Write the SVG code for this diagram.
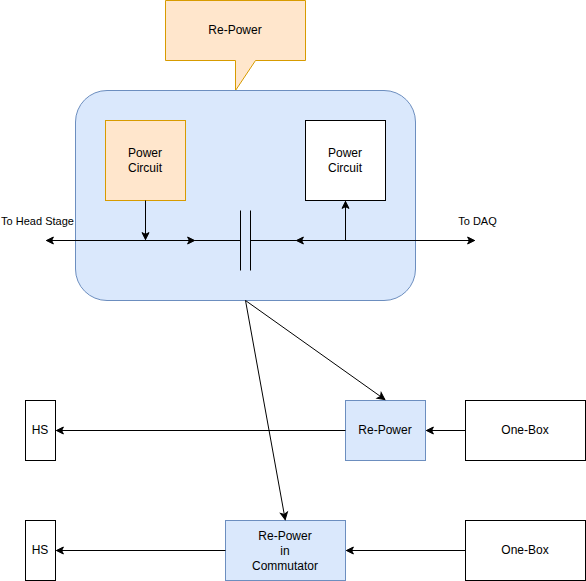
<svg xmlns="http://www.w3.org/2000/svg" width="586" height="581" viewBox="0 0 586 581">
<style>
text{font-family:"Liberation Sans",Arial,sans-serif;font-size:12px;fill:#000;text-anchor:middle}
.n{fill:#fff;stroke:#000;stroke-width:1}
.b{fill:#dae8fc;stroke:#6c8ebf;stroke-width:1}
.o{fill:#ffe6cc;stroke:#d79b00;stroke-width:1}
.c{fill:none;stroke:#000;stroke-width:1}
</style>
<defs>
<marker id="a" markerUnits="userSpaceOnUse" markerWidth="12" markerHeight="12" refX="9" refY="6" orient="auto" overflow="visible"><path d="M2,2.500L9,6L2,9.500L3.750,6Z" fill="#000" stroke="#000"/></marker>
<marker id="s" markerUnits="userSpaceOnUse" markerWidth="12" markerHeight="12" refX="3" refY="6" orient="auto" overflow="visible"><path d="M10,2.500L3,6L10,9.500L8.250,6Z" fill="#000" stroke="#000"/></marker>
</defs>
<g id="callout"><path class="o" d="M165.500 0.500H305.500V60.500H255.500L235.500 90.500V60.500H165.500Z"/><text x="235" y="34">Re-Power</text></g>
<g id="container"><rect class="b" x="75.500" y="90.500" width="340" height="210" rx="31.500" ry="31.500"/></g>
<g id="power1"><rect class="o" x="105.500" y="120.500" width="80" height="80"/><text x="145" y="157">Power</text><text x="145" y="172">Circuit</text></g>
<g id="power2"><rect class="n" x="305.500" y="120.500" width="80" height="80"/><text x="345" y="157">Power</text><text x="345" y="172">Circuit</text></g>
<g id="hs1"><rect class="n" x="25.500" y="400.500" width="30" height="60"/><text x="40" y="434">HS</text></g>
<g id="hs2"><rect class="n" x="25.500" y="520.500" width="30" height="60"/><text x="40" y="554">HS</text></g>
<g id="repower"><rect class="b" x="345.500" y="400.500" width="80" height="60"/><text x="385" y="434">Re-Power</text></g>
<g id="repower-comm"><rect class="b" x="225.500" y="520.500" width="120" height="60"/><text x="285" y="540">Re-Power</text><text x="285" y="555">in</text><text x="285" y="570">Commutator</text></g>
<g id="onebox1"><rect class="n" x="465.500" y="400.500" width="120" height="60"/><text x="525" y="434">One-Box</text></g>
<g id="onebox2"><rect class="n" x="465.500" y="520.500" width="120" height="60"/><text x="525" y="554">One-Box</text></g>
<g id="connectors">
<path class="c" d="M46.400 240.500H194.600" marker-start="url(#s)" marker-end="url(#a)"/>
<path class="c" d="M296.400 240.500H474.600" marker-start="url(#s)" marker-end="url(#a)"/>
<path class="c" d="M194.600 240.500H240.500M250.500 240.500H296.400"/>
<path class="c" d="M240.500 210.500V270.500M250.500 210.500V270.500"/>
<path class="c" d="M145.500 200.500V239.600" marker-end="url(#a)"/>
<path class="c" d="M345.500 240.500V201.400" marker-end="url(#a)"/>
<path class="c" d="M245.500 300.500L384.800 399.500" marker-end="url(#a)"/>
<path class="c" d="M245.500 300.500L285.200 519.600" marker-end="url(#a)"/>
<path class="c" d="M345.500 430.500H56.400" marker-end="url(#a)"/>
<path class="c" d="M465.500 430.500H426.400" marker-end="url(#a)"/>
<path class="c" d="M225.500 550.500H56.400" marker-end="url(#a)"/>
<path class="c" d="M465.500 550.500H346.400" marker-end="url(#a)"/>
</g>
<text x="37.500" y="225" style="font-size:11px">To Head Stage</text>
<text x="477.500" y="225" style="font-size:11px">To DAQ</text>
</svg>
